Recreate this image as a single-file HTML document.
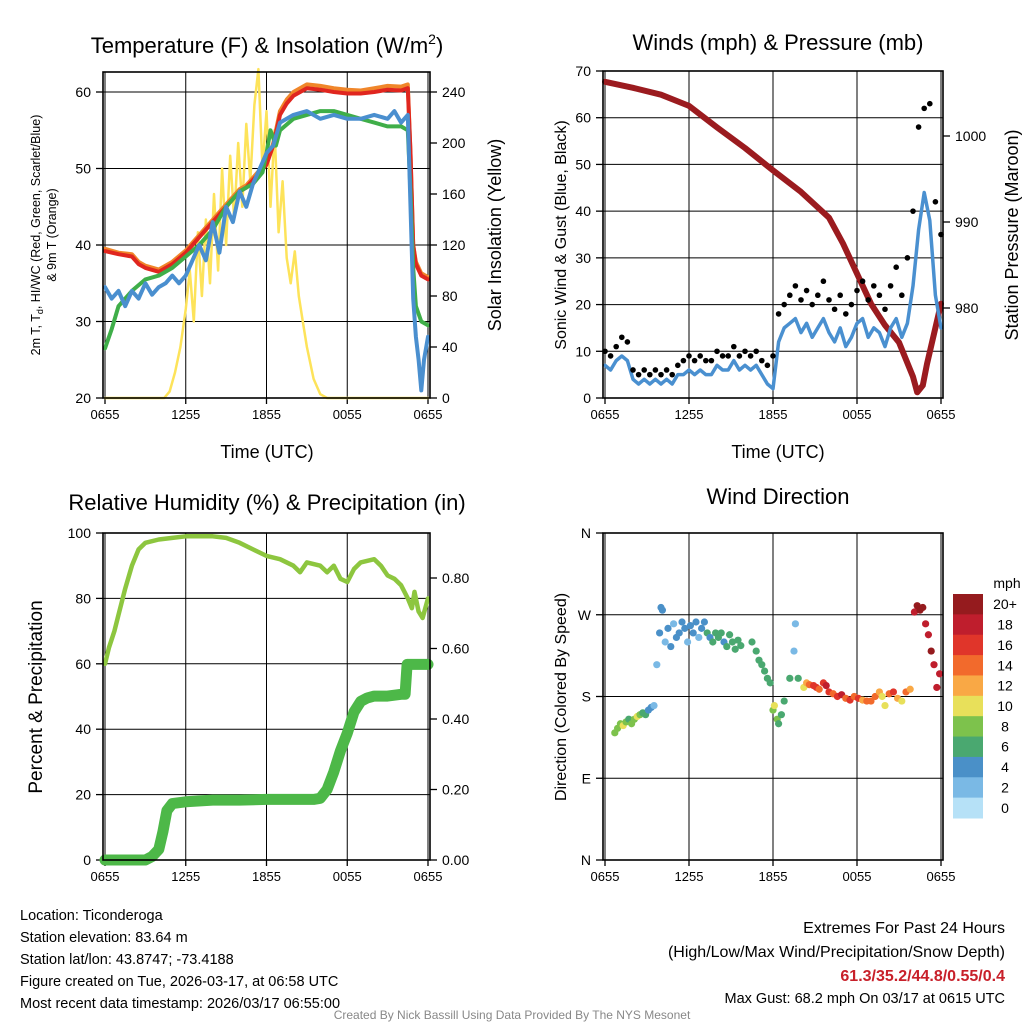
<!DOCTYPE html>
<html><head><meta charset="utf-8"><style>
html,body{margin:0;padding:0;background:#fff;}
svg{display:block;font-family:"Liberation Sans",sans-serif;}
</style></head><body>
<svg id="c" xmlns="http://www.w3.org/2000/svg" width="1024" height="1024" viewBox="0 0 1024 1024"></svg>
<script>
// ---------- DATA ----------
const timeTickHours=[0,6,12,18,24];
const timeTickLabels=["0655","1255","1855","0055","0655"];
const tempTicks=[20,30,40,50,60];
const solarTicks=[0,40,80,120,160,200,240];
const windTicks=[0,10,20,30,40,50,60,70];
const presTicks=[980,990,1000];
const rhTicks=[0,20,40,60,80,100];
const precipTicks=[0,0.2,0.4,0.6,0.8];
const precipTickLabels=["0.00","0.20","0.40","0.60","0.80"];
const dirTicks=[0,90,180,270,360];
const dirTickLabels=["N","E","S","W","N"];
const cbLabels=["20+","18","16","14","12","10","8","6","4","2","0"];
const cbColors=["#951b1e","#bf1e2d","#e0352a","#f26a2c","#f9a845","#e8e05a","#7dc24c","#4aa870","#4a90c8","#7ab9e5","#b6e1f7"];

const tempH=[0,1,2,2.5,3,4,5,6,6.5,7,7.5,8,8.5,9,9.5,10,10.5,11,11.5,12,12.5,13,13.5,14,15,16,17,18,19,20,21,22,22.5,22.7,22.9,23.1,23.5,24];
const tempV=[39.2,38.8,38.5,37.5,37,36.5,37.5,39,40,41,42,43,44,45,46,47,47.5,48.5,49.5,50.5,53,57,58.5,59.5,60.5,60.3,60,59.8,59.8,60,60.3,60.2,60.5,52,40,37.5,36,35.5];
const temp9V=[39.5,39,38.8,37.8,37.3,36.8,37.8,39.3,40.3,41.3,42.3,43.3,44.3,45.3,46.3,47.3,47.8,48.8,49.8,50.8,53.3,57.5,59,60,61,60.8,60.5,60.3,60.2,60.5,60.8,60.7,61,52,40,37.8,36.3,35.8];
const dewH=[0,0.5,1,1.5,2,3,4,5,6,7,8,9,10,11,11.7,12,12.3,12.7,13,14,15,16,17,18,19,20,21,22,22.5,22.7,22.9,23.1,23.5,24];
const dewV=[26.5,29,32,33,34,35.5,36,37,38.5,40,42,45,47,48,49.5,52,55,53,55,56.5,57,57.5,57.5,57,56.5,56,55.5,55.5,55,47,37,32,30,29.5];
const hiH=[0,0.5,1,1.5,2,2.5,3,3.5,4,4.5,5,5.5,6,6.5,7,7.5,8,8.5,9,9.5,10,10.5,11,11.5,12,12.5,13,14,15,16,17,18,19,20,21,21.5,22,22.5,22.7,22.9,23.1,23.3,23.5,23.7,24];
const hiV=[34.5,33,34,32,34,33,35,33.5,34.5,35,36,35,36,38,40,38,43,39,45,43,47,45,48,50,52,53,56,57,57.5,56.5,57,56.5,56.5,57,56.5,57.5,56,57,45,33,28,25,21,25,28];
const solarH=[0,4.4,4.8,5.2,5.6,6,6.3,6.6,6.9,7.2,7.5,7.8,8.1,8.4,8.7,9,9.3,9.6,9.9,10.2,10.5,10.8,11.1,11.4,11.7,12,12.3,12.6,12.9,13.2,13.5,13.8,14.1,14.4,14.7,15,15.5,16,16.5,24];
const solarV=[0,0,5,20,40,70,100,60,130,80,140,90,160,100,180,120,190,140,200,150,215,170,230,258,180,225,150,210,130,170,110,90,115,80,60,40,15,3,0,0];
const presH=[0,2,4,6,8,10,12,14,16,17,18,19,20,21,22,22.3,22.7,23,23.5,24];
const presV=[1006.3,1005.6,1004.8,1003.5,1001,998.6,996,993.5,990.5,987.5,984,980.5,978,976,972,970.2,971,973.5,977,980.5];
const windH=[0,0.4,0.8,1.2,1.6,2,2.4,2.8,3.2,3.6,4,4.4,4.8,5.2,5.6,6,6.4,6.8,7.2,7.6,8,8.4,8.8,9.2,9.6,10,10.4,10.8,11.2,11.6,12,12.4,12.8,13.2,13.6,14,14.4,14.8,15.2,15.6,16,16.4,16.8,17.2,17.6,18,18.4,18.8,19.2,19.6,20,20.4,20.8,21.2,21.6,22,22.4,22.8,23.2,23.6,24];
const windV=[7,6,8,9,8,4,3,4,3,4,3,4,3,5,5,6,5,6,5,5,7,6,6,8,6,7,6,7,5,3,2,12,15,16,17,14,16,13,15,17,14,12,15,11,13,16,17,13,15,14,11,15,17,13,16,24,36,44,38,22,15];
const gustV=[10,9,11,13,12,6,5,6,5,6,5,6,5,7,8,9,8,9,8,8,10,9,9,11,9,10,9,10,8,7,9,18,20,22,24,21,23,20,22,25,21,19,22,18,20,23,25,21,24,22,19,24,28,22,30,40,58,62,63,42,35];
const rhH=[0,0.3,0.7,1,1.5,2,2.5,3,4,5,6,7,8,9,10,11,12,13,14,14.5,15,16,16.5,17,17.5,18,18.5,19,20,20.5,21,21.5,22,22.5,22.8,23,23.3,23.6,24];
const rhV=[60,65,70,75,83,90,95,97,98,98.5,99,99,99,98.5,97,95,93,92,90,88,91,90,88,90,86,85,89,91,92,90,87,86,84,80,77,82,76,74,80];
const precipH=[0,3,3.5,4,4.3,4.6,5,6,8,10,12,14,15.5,16,16.5,17,17.5,18,18.5,19,19.5,20,21,22,22.3,22.45,24];
const precipV=[0,0,0.01,0.03,0.08,0.14,0.16,0.165,0.17,0.17,0.172,0.172,0.172,0.175,0.2,0.25,0.31,0.36,0.42,0.45,0.46,0.465,0.465,0.47,0.47,0.555,0.555];
const dirH=[0.7,0.9,1.1,1.3,1.5,1.7,1.9,2.1,2.3,2.5,2.7,2.9,3.1,3.3,3.5,3.7,3.9,4.0,4.1,4.3,4.5,4.7,4.9,5.1,5.3,5.5,5.7,5.9,6.1,6.3,6.5,6.7,6.9,7.1,7.3,7.5,7.7,7.9,8.1,8.3,8.5,8.7,8.9,9.1,9.3,9.5,9.7,10.5,10.8,11.0,11.2,11.4,11.6,11.8,12.0,12.1,12.3,12.4,12.6,12.8,13.2,13.5,13.6,13.8,14.2,14.4,14.6,14.9,15.1,15.3,15.6,15.8,16.0,16.3,16.6,16.9,17.2,17.5,17.8,18.1,18.4,18.7,19.0,19.3,19.6,19.8,20.0,20.3,20.6,20.9,21.2,21.5,21.8,22.1,22.3,22.5,22.7,22.9,23.1,23.3,23.5,23.7,23.9];
const dirV=[140,145,150,148,152,155,150,155,158,160,162,160,165,168,170,215,250,278,275,240,255,235,260,245,250,262,255,240,258,250,262,245,255,262,250,245,240,250,245,250,240,235,248,240,232,242,236,240,230,220,215,208,200,195,165,170,155,150,160,175,200,230,260,200,190,195,193,192,190,188,195,192,185,183,180,182,178,176,180,178,176,175,175,180,185,180,170,183,185,178,175,185,188,273,280,275,278,260,248,230,215,190,205];
const dirS=[8,9,9,10,8,7,9,8,10,9,7,6,4,4,3,3,4,4,4,3,4,4,3,4,5,4,4,3,4,5,4,3,5,5,6,5,7,6,6,6,5,6,6,7,6,7,6,6,6,6,7,7,6,6,9,10,8,6,7,6,6,2,2,6,10,12,14,16,16,14,17,18,16,14,16,18,15,16,14,16,12,15,15,14,13,11,10,14,16,13,11,15,13,18,20,21,20,19,19,20,18,19,19];

// ---------- HELPERS ----------
const NS="http://www.w3.org/2000/svg";
const svg=document.getElementById('c');
function mk(tag,parent){const e=document.createElementNS(NS,tag);(parent||svg).appendChild(e);return e;}
function geo(e,o){for(const k in o)e.setAttribute(k,o[k]);return e;}
function txt(s,x,y,size,anchor,parent){const t=mk('text',parent);geo(t,{x:x,y:y,'font-size':size,'text-anchor':anchor||'middle',fill:'#000'});t.textContent=s;return t;}
function lin(d0,d1,r0,r1){return v=>r0+(v-d0)*(r1-r0)/(d1-d0);}

function frame(name,x0,x1,y0,y1){
  const g=mk('g');
  
  
  return g;
}
function gridLine(g,x1,y1,x2,y2){const l=mk('line',g);geo(l,{x1:x1,y1:y1,x2:x2,y2:y2,stroke:'#000','stroke-width':1});return l;}
function box(g,x0,x1,y0,y1){const r=mk('rect',g);geo(r,{x:x0,y:y0,width:x1-x0,height:y1-y0,fill:'none',stroke:'#000','stroke-width':1.6});}
function xAxis(g,sx,y0,y1){
  timeTickHours.forEach((h,i)=>{
    const x=sx(h);
    gridLine(g,x,y0,x,y1);
    const tk=mk('line',g);geo(tk,{x1:x,y1:y1,x2:x,y2:y1+6,stroke:'#000','stroke-width':1.3});
    
    const t=txt(timeTickLabels[i],x,y1+21,13,'middle',g);
    
  });
}
function polyline(g,xs,ys,sx,sy,color,w,name){
  const p=mk('polyline',g);
  geo(p,{points:xs.map((h,i)=>sx(h).toFixed(1)+','+sy(ys[i]).toFixed(1)).join(' '),fill:'none',stroke:color,'stroke-width':w,'stroke-linejoin':'round','stroke-linecap':'round'});
  
  
  return p;
}
function leftTicks(g,ticks,labels,sy,x0,x1,grid){
  ticks.forEach((v,i)=>{
    const y=sy(v);
    if(grid)gridLine(g,x0,y,x1,y);
    const tk=mk('line',g);geo(tk,{x1:x0-7,y1:y,x2:x0,y2:y,stroke:'#000','stroke-width':1.3});
    
    const t=txt(labels[i],x0-12,y+5,14,'end',g);
    
  });
}
function rightTicks(g,ticks,labels,sy,x1){
  ticks.forEach((v,i)=>{
    const y=sy(v);
    const tk=mk('line',g);geo(tk,{x1:x1,y1:y,x2:x1+7,y2:y,stroke:'#000','stroke-width':1.3});
    
    const t=txt(labels[i],x1+12,y+5,14,'start',g);
    
  });
}
function vtitle(g,s,x,y,size){const t=txt(s,x,y,size,'middle',g);t.setAttribute('transform','rotate(-90 '+x+' '+y+')');return t;}

// ---------- PANEL 1 ----------
(function(){
  const X0=103,X1=430,Y0=72,Y1=398;
  const g=frame('temperature-panel');
  const sx=lin(0,24,105,428), sy=lin(20,60,398,92), sr=lin(0,240,398,92);
  leftTicks(g,tempTicks,tempTicks.map(String),sy,X0,X1,true);
  rightTicks(g,solarTicks,solarTicks.map(String),sr,X1);
  xAxis(g,sx,Y0,Y1);
  polyline(g,solarH,solarV,sx,sr,'#fde35a',2.5,'solar-insolation-line');
  polyline(g,tempH,temp9V,sx,sy,'#f0862a',4,'temp-9m-line');
  polyline(g,tempH,tempV,sx,sy,'#e0261f',4,'temp-2m-line');
  polyline(g,dewH,dewV,sx,sy,'#3fae49',4,'dewpoint-line');
  polyline(g,hiH,hiV,sx,sy,'#4a8fcf',4,'heat-index-windchill-line');
  box(g,X0,X1,Y0,Y1);
  const t=mk('text',g);geo(t,{x:267,y:53,'font-size':22,'text-anchor':'middle'});
  t.innerHTML='Temperature (F) &amp; Insolation (W/m<tspan dy="-9" font-size="14">2</tspan><tspan dy="9">)</tspan>';
  
  const xt=txt('Time (UTC)',267,458,18,'middle',g);
  const yl=mk('text',g);geo(yl,{x:40,y:235,'font-size':12.5,'text-anchor':'middle',transform:'rotate(-90 40 235)'});
  yl.innerHTML='2m T, T<tspan dy="3" font-size="9">d</tspan><tspan dy="-3">, HI/WC (Red, Green, Scarlet/Blue)</tspan>';
  
  const yl2=vtitle(g,'& 9m T (Orange)',56,235,12.5);
  const yr=vtitle(g,'Solar Insolation (Yellow)',501,235,18);
})();

// ---------- PANEL 2 ----------
(function(){
  const X0=603,X1=943,Y0=71,Y1=398;
  const g=frame('winds-panel');
  const sx=lin(0,24,605,941), sy=lin(0,70,398,71), sp=lin(1000,980,136,308);
  leftTicks(g,windTicks,windTicks.map(String),sy,X0,X1,true);
  rightTicks(g,presTicks,presTicks.map(String),sp,X1);
  xAxis(g,sx,Y0,Y1);
  polyline(g,presH,presV,sx,sp,'#9b1b1f',6,'pressure-line');
  polyline(g,windH,windV,sx,sy,'#4a90d0',3.5,'sonic-wind-line');
  windH.forEach((h,i)=>{
    const c=mk('circle',g);geo(c,{cx:sx(h),cy:sy(gustV[i]),r:2.8,fill:'#000'});
    
    
  });
  box(g,X0,X1,Y0,Y1);
  const t=txt('Winds (mph) & Pressure (mb)',778,50,22,'middle',g);
  const xt=txt('Time (UTC)',778,458,18,'middle',g);
  const yl=vtitle(g,'Sonic Wind & Gust (Blue, Black)',566,235,16);
  const yr=vtitle(g,'Station Pressure (Maroon)',1018,235,18);
})();

// ---------- PANEL 3 ----------
(function(){
  const X0=103,X1=430,Y0=533,Y1=860;
  const g=frame('humidity-panel');
  const sx=lin(0,24,105,428), sy=lin(0,100,860,533), sr=lin(0,0.8,860,578);
  leftTicks(g,rhTicks,rhTicks.map(String),sy,X0,X1,true);
  rightTicks(g,precipTicks,precipTickLabels,sr,X1);
  xAxis(g,sx,Y0,Y1);
  polyline(g,rhH,rhV,sx,sy,'#8dc63f',4.5,'relative-humidity-line');
  polyline(g,precipH,precipV,sx,sr,'#4db848',11,'precipitation-line');
  box(g,X0,X1,Y0,Y1);
  const t=txt('Relative Humidity (%) & Precipitation (in)',267,510,22,'middle',g);
  const yl=vtitle(g,'Percent & Precipitation',42,697,19);
})();

// ---------- PANEL 4 ----------
(function(){
  const X0=603,X1=943,Y0=533,Y1=860;
  const g=frame('wind-direction-panel');
  const sx=lin(0,24,605,941), sy=lin(0,360,860,533);
  leftTicks(g,dirTicks,dirTickLabels,sy,X0,X1,true);
  xAxis(g,sx,Y0,Y1);
  dirH.forEach((h,i)=>{
    const idx=Math.min(10,Math.floor(dirS[i]/2));
    const c=mk('circle',g);geo(c,{cx:sx(h),cy:sy(dirV[i]),r:3.6,fill:cbColors[10-idx]});
    
    
  });
  box(g,X0,X1,Y0,Y1);
  const t=txt('Wind Direction',778,504,22,'middle',g);
  const yl=vtitle(g,'Direction (Colored By Speed)',566,697,16);
  const cb=mk('g',g);
  
  
  const bh=(818-594)/11;
  cbColors.forEach((c,i)=>{
    const r=mk('rect',cb);geo(r,{x:953,y:594+i*bh,width:30,height:bh+0.5,fill:c});
    
    
    const l=txt(cbLabels[i],1005,594+i*bh+bh/2+5,14,'middle',cb);
    
    
  });
  const m=txt('mph',1007,588,14,'middle',cb);
})();

// ---------- FOOTER ----------
(function(){
  const g=frame('footer-info');
  const left=['Location: Ticonderoga','Station elevation: 83.64 m','Station lat/lon: 43.8747; -73.4188','Figure created on Tue, 2026-03-17, at 06:58 UTC','Most recent data timestamp: 2026/03/17 06:55:00'];
  left.forEach((s,i)=>{const t=txt(s,20,920+i*22,14.5,'start',g);});
  const r1=txt('Extremes For Past 24 Hours',1005,933,16,'end',g);
  const r2=txt('(High/Low/Max Wind/Precipitation/Snow Depth)',1005,957,16,'end',g);
  const r3=txt('61.3/35.2/44.8/0.55/0.4',1005,981,16,'end',g);r3.setAttribute('fill','#c8202a');r3.setAttribute('font-weight','bold');
  const r4=txt('Max Gust: 68.2 mph On 03/17 at 0615 UTC',1005,1003,14.5,'end',g);
  const cr=txt('Created By Nick Bassill Using Data Provided By The NYS Mesonet',512,1019,12,'middle',g);cr.setAttribute('fill','#888');
})();
</script>
</body></html>
